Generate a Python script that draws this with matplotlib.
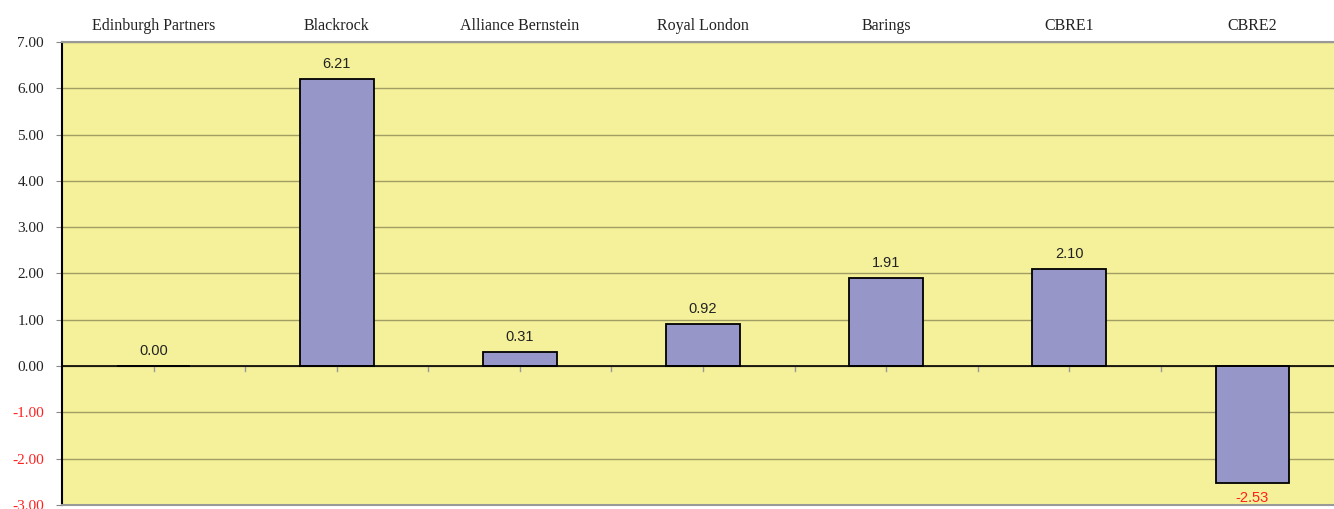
import matplotlib
matplotlib.use("Agg")
import matplotlib.pyplot as plt

managers = ["Edinburgh Partners", "Blackrock", "Alliance Bernstein", "Royal London",
            "Barings", "CBRE1", "CBRE2"]
values = [0.00, 6.21, 0.31, 0.92, 1.91, 2.10, -2.53]
yticks = [-3, -2, -1, 0, 1, 2, 3, 4, 5, 6, 7]

fig = plt.figure(figsize=(13.34, 5.09), dpi=100)
# plot area runs past the right edge of the picture (clipped, as in the original)
ax = fig.add_axes([62 / 1334, 1 - 505 / 509, 1282 / 1334, (505 - 42) / 509])
ax.set_facecolor("#F5F19A")

x = list(range(len(managers)))
ax.bar(x, values, 0.403, color="#9696C9", edgecolor="black", linewidth=1.3, zorder=3)

ax.set_xlim(-0.5, len(managers) - 0.5)
ax.set_ylim(-3, 7)
ax.set_yticks(yticks)
ax.tick_params(axis="y", length=4, color="#888888", pad=9)
ax.set_yticklabels(["%.2f" % v for v in yticks], family="Liberation Serif", fontsize=11)
for lab, v in zip(ax.get_yticklabels(), yticks):
    lab.set_color("#FF2020" if v < 0 else "#222222")
ax.yaxis.grid(True, color="#A09E62", linewidth=1, zorder=0)
ax.axhline(0, color="black", linewidth=1.2, zorder=4)

# category names along the top
ax.set_xticks([])
for i, name in enumerate(managers):
    ax.text(i, 1.035, name, transform=ax.get_xaxis_transform(), ha="center", va="center",
            family="Liberation Serif", fontsize=11.5, color="#222222")

# small tick marks hanging from the zero line
for t in [i * 0.5 - 0.5 for i in range(1, 2 * len(managers) + 1)]:
    ax.plot([t, t], [0, -0.1], color="#999999", linewidth=1, zorder=2)

for i, v in enumerate(values):
    if v >= 0:
        ax.text(i, v + 0.32, "%.2f" % v, ha="center", va="center",
                family="Liberation Sans", fontsize=10.5, color="#222222", zorder=5)
    else:
        ax.text(i, v - 0.32, "%.2f" % v, ha="center", va="center",
                family="Liberation Sans", fontsize=10.5, color="#FF2020", zorder=5)

for s in ["top", "bottom", "right"]:
    ax.spines[s].set_color("#999999")
    ax.spines[s].set_linewidth(1.5)
ax.spines["left"].set_color("black")
ax.spines["left"].set_linewidth(1.5)

fig.savefig("out.png", dpi=100)
